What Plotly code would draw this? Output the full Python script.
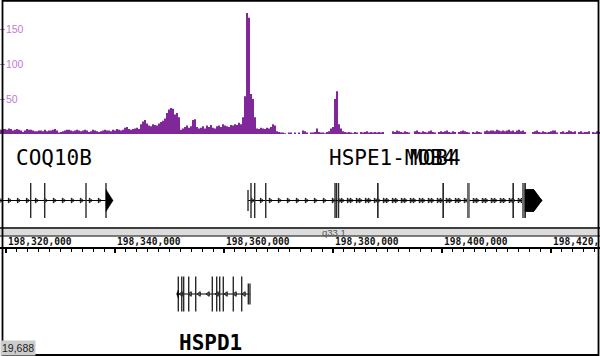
import numpy as np
import plotly.graph_objects as go

# ---------------- data ----------------
VIEW_START = 198318899
VIEW_END = 198428991

# ChIP-like signal (bedGraph style, fixed-size bins)
SIGNAL_START = 198318899
SIGNAL_BIN = 367
signal_values = [
    6, 7, 7, 6, 8, 7, 5, 6, 7, 6, 5, 3, 5, 7, 6, 6, 5, 4, 4, 5,
    5, 4, 6, 4, 5, 5, 6, 7, 5, 2, 3, 4, 5, 6, 6, 5, 4, 5, 6, 5,
    4, 5, 6, 5, 3, 4, 6, 5, 4, 3, 4, 5, 6, 5, 5, 4, 6, 5, 7, 6,
    5, 6, 9, 10, 7, 6, 7, 8, 9, 7, 14, 18, 20, 15, 12, 11, 14, 13, 12, 15,
    17, 19, 22, 30, 35, 37, 36, 28, 30, 24, 6, 8, 10, 12, 9, 11, 20, 21, 10, 8,
    9, 11, 8, 12, 10, 13, 9, 8, 11, 12, 10, 14, 12, 11, 10, 13, 12, 14, 13, 16,
    14, 24, 54, 173, 166, 57, 50, 24, 8, 7, 9, 8, 7, 9, 8, 10, 14, 12, 4, 3,
    2, 2, 1, 0, 2, 2, 0, 2, 0, 2, 0, 5, 4, 2, 0, 2, 2, 3, 8, 3,
    2, 2, 1, 3, 4, 8, 10, 50, 61, 14, 8, 4, 3, 2, 3, 2, 1, 3, 2, 0,
    3, 2, 3, 4, 2, 3, 2, 3, 2, 3, 2, 3, 0, 0, 0, 0, 4, 3, 5, 4,
    3, 2, 4, 3, 2, 0, 0, 4, 5, 3, 2, 4, 3, 2, 4, 5, 3, 2, 0, 3,
    4, 3, 4, 5, 3, 2, 4, 3, 0, 3, 4, 5, 4, 3, 2, 0, 3, 2, 4, 3,
    2, 0, 4, 5, 4, 5, 5, 4, 6, 5, 4, 5, 4, 5, 6, 4, 5, 3, 5, 6,
    4, 5, 3, 0, 0, 0, 3, 4, 5, 3, 2, 4, 3, 2, 3, 4, 5, 5, 2, 0,
    3, 4, 2, 3, 5, 4, 3, 4, 0, 3, 4, 2, 3, 3, 4, 0, 3, 2, 4, 3,
]
signal_ticks = [50, 100, 150]

ruler_ticks = [198320000, 198340000, 198360000, 198380000, 198400000, 198420000]
ruler_labels = ["198,320,000", "198,340,000", "198,360,000",
                "198,380,000", "198,400,000", "198,420,000"]
cytoband_name = "q33.1"
cytoband_pos = 198377700
locus_label = "19,688"

# genes: exons as (start, end); terminal exon (3' end) drawn as an arrow
coq10b_exons = [(198318147, 198318400), (198324480, 198324580), (198327050, 198327150),
                (198334630, 198334730), (198338349, 198339634)]
coq10b_utr = []

hspe1_mob4_exons = [(198364380, 198364430), (198364930, 198364980), (198365610, 198365660),
                    (198367600, 198367720), (198380620, 198380670), (198388180, 198388230),
                    (198400210, 198400260), (198404700, 198404950), (198413060, 198413110),
                    (198414800, 198415030), (198415249, 198418313)]
hspe1_mob4_utr = [0]

mob4_exons = [(198380340, 198380400), (198380990, 198381040), (198388180, 198388230),
              (198400210, 198400260), (198404700, 198404950), (198413060, 198413110),
              (198414800, 198415030), (198415249, 198418313)]
mob4_utr = []

hspd1_exons = [(198351323, 198351616), (198351580, 198351650), (198352200, 198352300),
               (198352560, 198352640), (198353480, 198353570), (198354770, 198354850),
               (198357810, 198357900), (198358620, 198358700), (198359170, 198359250),
               (198359830, 198359910), (198361660, 198361750), (198363200, 198363290),
               (198364420, 198364500), (198364730, 198364800)]
hspd1_utr = [12, 13]

# ---------------- styling / layout ----------------
W, H = 600, 356
PURPLE = "#80279a"
TICK_PURPLE = "#c27ad6"
MONO = "DejaVu Sans Mono"

UPPER_Y, UPPER_LABEL_Y = 200.5, 157.5
LOWER_Y, LOWER_LABEL_Y = 294, 343
EXON_HALF, UTR_HALF = 17.5, 10.5
ARROW_STEP = 1650

fig = go.Figure()

# signal track (yaxis2)
edges = SIGNAL_START + SIGNAL_BIN * np.arange(len(signal_values) + 1)
yvals = list(signal_values) + [signal_values[-1]]
fig.add_trace(go.Scatter(x=edges, y=yvals, mode="lines", line=dict(shape="hv", width=0, color=PURPLE),
                         fill="tozeroy", fillcolor=PURPLE, xaxis="x", yaxis="y2",
                         hoverinfo="skip", showlegend=False))


def draw_gene(exons, utr, strand, yc, arrow_half, label, label_y, bold=False):
    s = min(e[0] for e in exons)
    e_ = max(e[1] for e in exons)
    fig.add_trace(go.Scatter(x=[s, e_], y=[yc, yc], mode="lines", line=dict(color="black", width=1),
                             xaxis="x", yaxis="y", hoverinfo="skip", showlegend=False))
    pos = np.arange(s + ARROW_STEP / 2, e_, ARROW_STEP)
    fig.add_trace(go.Scatter(x=pos, y=[yc] * len(pos), mode="markers",
                             marker=dict(symbol="triangle-right-open" if strand == "+" else "triangle-left-open",
                                         size=4, color="black", line=dict(width=1, color="black")),
                             xaxis="x", yaxis="y", hoverinfo="skip", showlegend=False))
    term = exons[-1] if strand == "+" else exons[0]
    thin_x, thin_y, thick_x, thick_y = [], [], [], []
    for i, (a, b) in enumerate(exons):
        half = UTR_HALF if i in utr else EXON_HALF
        if (a, b) == term:
            if strand == "-":
                continue
            m = a
        else:
            m = (a + b) / 2
        if b - a > 200 and (a, b) != term:
            thick_x += [m, m, None]
            thick_y += [yc - half, yc + half, None]
        else:
            thin_x += [m, m, None]
            thin_y += [yc - half, yc + half, None]
    fig.add_trace(go.Scatter(x=thin_x, y=thin_y, mode="lines", line=dict(color="#2a2a2a", width=1.4),
                             xaxis="x", yaxis="y", hoverinfo="skip", showlegend=False))
    if thick_x:
        fig.add_trace(go.Scatter(x=thick_x, y=thick_y, mode="lines", line=dict(color="#6e6e6e", width=2.6),
                                 xaxis="x", yaxis="y", hoverinfo="skip", showlegend=False))
    a, b = term
    head = min(b - a, 1500)
    if strand == "+":
        px = [a, b - head, b, b - head, a, a]
    else:
        px = [b, a + head, a, a + head, b, b]
    py_ = [yc - arrow_half, yc - arrow_half, yc, yc + arrow_half, yc + arrow_half, yc - arrow_half]
    fig.add_trace(go.Scatter(x=px, y=py_, mode="lines", fill="toself", fillcolor="black",
                             line=dict(color="black", width=0.5), xaxis="x", yaxis="y",
                             hoverinfo="skip", showlegend=False))
    cx = (max(s, VIEW_START) + min(e_, VIEW_END)) / 2
    fig.add_annotation(x=cx, y=label_y, xref="x", yref="y", text=label, showarrow=False,
                       xanchor="center", yanchor="middle", xshift=-2.5,
                       font=dict(family=MONO, size=21, color="black",
                                 weight="bold" if bold else "normal"))


draw_gene(coq10b_exons, coq10b_utr, "+", UPPER_Y, 11, "COQ10B", UPPER_LABEL_Y)
draw_gene(hspe1_mob4_exons, hspe1_mob4_utr, "+", UPPER_Y, 11, "HSPE1-MOB4", UPPER_LABEL_Y)
draw_gene(mob4_exons, mob4_utr, "+", UPPER_Y, 11, "MOB4", UPPER_LABEL_Y)
draw_gene(hspd1_exons, hspd1_utr, "-", LOWER_Y, 4, "HSPD1", LOWER_LABEL_Y, bold=True)

# dummy trace to realize the ruler axis
fig.add_trace(go.Scatter(x=[VIEW_START], y=[None], xaxis="x2", yaxis="y", mode="markers",
                         hoverinfo="skip", showlegend=False))

# ruler labels (left-aligned at each major tick, above the ruler line)
for tv, tl in zip(ruler_ticks, ruler_labels):
    fig.add_annotation(x=tv, y=241, xref="x", yref="y", text=tl, showarrow=False,
                       xanchor="left", yanchor="middle",
                       font=dict(family=MONO, size=9.6, color="#111", weight="bold"))

fig.add_annotation(x=cytoband_pos, y=232, xref="x", yref="y", text=cytoband_name, showarrow=False,
                   xanchor="left", yanchor="middle", font=dict(family="Liberation Sans", size=9.5, color="#555"))
fig.add_annotation(x=0, y=347.5, xref="paper", yref="y", text=locus_label, showarrow=False,
                   xanchor="left", yanchor="middle", bgcolor="#cccccc", borderpad=1,
                   font=dict(family="Liberation Sans", size=10.5, color="#222"))


def py(p):
    return 1 - p / H


shapes = [
    dict(type="rect", xref="paper", yref="paper", x0=0, x1=1, y0=py(235.5), y1=py(228.8),
         fillcolor="#dcdcdc", line=dict(width=0), layer="below"),
    dict(type="line", xref="paper", yref="paper", x0=0, x1=1, y0=py(228), y1=py(228),
         line=dict(color="black", width=1.6)),
    dict(type="line", xref="paper", yref="paper", x0=0, x1=1, y0=py(236), y1=py(236),
         line=dict(color="black", width=1.2)),
    dict(type="rect", xref="paper", yref="paper", x0=2.5 / W, x1=598.5 / W, y0=py(355), y1=py(0.9),
         line=dict(color="black", width=1.8)),
]

fig.update_layout(
    width=W, height=H, margin=dict(l=0, r=0, t=0, b=0),
    paper_bgcolor="white", plot_bgcolor="rgba(0,0,0,0)",
    showlegend=False, shapes=shapes,
    xaxis=dict(range=[VIEW_START, VIEW_END], domain=[0, 1], visible=False, anchor="y"),
    yaxis=dict(range=[H, 0], domain=[0, 1], visible=False, anchor="x"),
    yaxis2=dict(range=[0, 134 / 0.7], domain=[1 - 134 / H, 1], anchor="x",
                showgrid=False, zeroline=False, showline=False,
                tickmode="array", tickvals=signal_ticks, ticks="inside", ticklen=5,
                tickcolor=TICK_PURPLE, ticklabelposition="inside",
                tickfont=dict(family="Liberation Sans", size=10.5, color=TICK_PURPLE)),
    xaxis2=dict(range=[VIEW_START, VIEW_END], overlaying="x", anchor="free",
                position=1 - 248 / H, side="bottom", showgrid=False, zeroline=False,
                showline=True, linecolor="black", linewidth=1.5,
                tickmode="array", tickvals=ruler_ticks, showticklabels=False,
                ticks="outside", ticklen=4, tickwidth=1.5, tickcolor="black",
                minor=dict(tick0=ruler_ticks[0], dtick=2000, ticks="outside", ticklen=3,
                           tickwidth=1, tickcolor="black")),
)

fig.write_html("out.html", config={"displayModeBar": False},
               post_script="document.body.style.margin='0';document.body.style.padding='0';")
